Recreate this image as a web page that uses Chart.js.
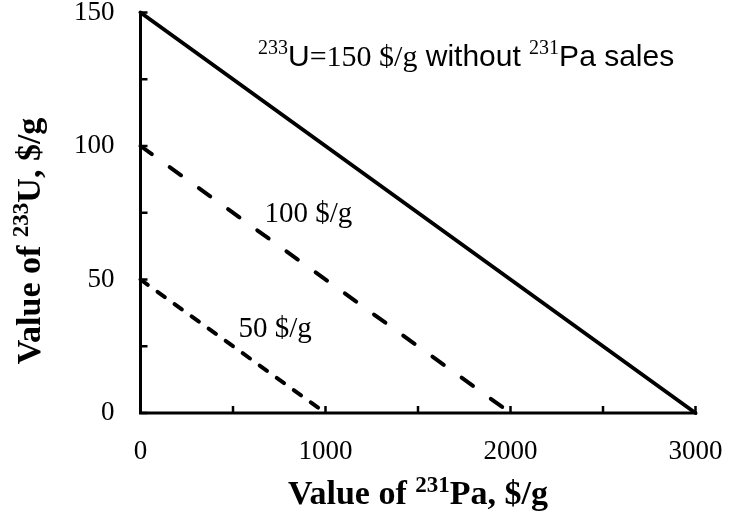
<!DOCTYPE html>
<html>
<head>
<meta charset="utf-8">
<script src="https://cdn.jsdelivr.net/npm/chart.js@4"></script>
<style>
  html, body { margin: 0; padding: 0; background: #fff; }
  #wrap { width: 748px; height: 515px; position: relative; }
</style>
</head>
<body>
<div id="wrap"><canvas id="chart"></canvas></div>
<script>
// Break-even lines: value of 233U versus value of 231Pa
const paFor150 = [0, 3000];
const uFor150  = [150, 0];
const paFor100 = [0, 2000];
const uFor100  = [100, 0];
const paFor50  = [0, 1000];
const uFor50   = [50, 0];

const xTickValues = [0, 1000, 2000, 3000];
const yTickValues = [0, 50, 100, 150];

const SERIF = '"Liberation Serif", "DejaVu Serif", serif';
const SANS  = '"Liberation Sans", Arial, sans-serif';

function toPoints(xs, ys) {
  return xs.map((x, i) => ({ x: x, y: ys[i] }));
}

// Draw a run of text pieces (with optional superscripts) starting/centred at x
function drawRuns(ctx, runs, x, y, align) {
  let total = 0;
  runs.forEach(r => { ctx.font = r.font; r.w = ctx.measureText(r.t).width; total += r.w; });
  let cx = align === 'center' ? x - total / 2 : x;
  ctx.textBaseline = 'alphabetic';
  ctx.textAlign = 'left';
  runs.forEach(r => {
    ctx.font = r.font;
    ctx.fillText(r.t, cx, y + (r.dy || 0));
    cx += r.w;
  });
}

// the plot box is fixed by the layout padding alone
function noScalePadding(s) {
  s.paddingTop = 0; s.paddingBottom = 0; s.paddingLeft = 0; s.paddingRight = 0;
}

const decorations = {
  id: 'decorations',
  afterDatasetsDraw(chart) {
    const ctx = chart.ctx;
    const xs = chart.scales.x, ys = chart.scales.y;
    const area = chart.chartArea;
    ctx.save();
    ctx.strokeStyle = '#000';
    ctx.fillStyle = '#000';

    // axis lines
    ctx.lineWidth = 3;
    ctx.lineCap = 'square';
    ctx.beginPath();
    ctx.moveTo(area.left, area.top);
    ctx.lineTo(area.left, area.bottom);
    ctx.lineTo(area.right, area.bottom);
    ctx.stroke();

    // inward tick marks
    ctx.lineWidth = 2.5;
    ctx.lineCap = 'butt';
    ctx.beginPath();
    xs.ticks.forEach(t => {
      const px = xs.getPixelForValue(t.value);
      ctx.moveTo(px, area.bottom);
      ctx.lineTo(px, area.bottom - 7);
    });
    ys.ticks.forEach(t => {
      const py = ys.getPixelForValue(t.value);
      ctx.moveTo(area.left, py);
      ctx.lineTo(area.left + 7, py);
    });
    ctx.stroke();

    // line labels
    drawRuns(ctx, [
      { t: '233', font: '20px ' + SERIF, dy: -12 },
      { t: 'U', font: '30px ' + SANS },
      { t: '=150 $/g', font: '30px ' + SERIF },
      { t: ' without ', font: '30px ' + SANS },
      { t: '231', font: '20px ' + SERIF, dy: -12 },
      { t: 'Pa sales', font: '30px ' + SANS }
    ], xs.getPixelForValue(635), ys.getPixelForValue(130), 'left');

    drawRuns(ctx, [{ t: '100 $/g', font: '29px ' + SERIF }],
      xs.getPixelForValue(670), ys.getPixelForValue(71.5), 'left');
    drawRuns(ctx, [{ t: '50 $/g', font: '29px ' + SERIF }],
      xs.getPixelForValue(530), ys.getPixelForValue(28.5), 'left');

    // axis titles
    drawRuns(ctx, [
      { t: 'Value of ', font: 'bold 34px ' + SERIF },
      { t: '231', font: 'bold 23px ' + SERIF, dy: -12 },
      { t: 'Pa, $/g', font: 'bold 34px ' + SERIF }
    ], (area.left + area.right) / 2, 504, 'center');

    ctx.translate(40, 241);
    ctx.rotate(-Math.PI / 2);
    drawRuns(ctx, [
      { t: 'Value of ', font: 'bold 34px ' + SERIF },
      { t: '233', font: 'bold 23px ' + SERIF, dy: -12 },
      { t: 'U, $/g', font: 'bold 34px ' + SERIF }
    ], 0, 0, 'center');
    ctx.restore();
  }
};

const lineStyle = {
  borderColor: '#000',
  borderWidth: 4,
  borderCapStyle: 'round',
  pointRadius: 0,
  tension: 0,
  fill: false,
  clip: false
};

new Chart(document.getElementById('chart'), {
  type: 'line',
  data: {
    datasets: [
      Object.assign({ label: '150 $/g', data: toPoints(paFor150, uFor150) }, lineStyle),
      Object.assign({ label: '100 $/g', data: toPoints(paFor100, uFor100), borderDash: [14, 22] }, lineStyle),
      Object.assign({ label: '50 $/g', data: toPoints(paFor50, uFor50), borderDash: [9, 12] }, lineStyle)
    ]
  },
  options: {
    responsive: true,
    maintainAspectRatio: false,
    animation: false,
    layout: { autoPadding: false, padding: { left: 0, right: 52.5, top: 12.5, bottom: 0 } },
    plugins: { legend: { display: false }, tooltip: { enabled: false } },
    scales: {
      x: {
        type: 'linear',
        min: 0, max: 3000,
        grid: { display: false },
        border: { display: false },
        ticks: {
          stepSize: 500,
          padding: 17,
          color: '#000',
          font: { family: SERIF, size: 27, lineHeight: 1 },
          maxRotation: 0,
          callback: v => xTickValues.includes(v) ? String(v) : ''
        },
        afterFit: s => { s.height = 102; noScalePadding(s); }
      },
      y: {
        type: 'linear',
        min: 0, max: 150,
        grid: { display: false },
        border: { display: false },
        ticks: {
          stepSize: 25,
          padding: 18,
          color: '#000',
          font: { family: SERIF, size: 27, lineHeight: 1 },
          callback: v => yTickValues.includes(v) ? String(v) : ''
        },
        afterFit: s => { s.width = 140.5; noScalePadding(s); }
      }
    }
  },
  plugins: [decorations]
});
</script>
</body>
</html>
